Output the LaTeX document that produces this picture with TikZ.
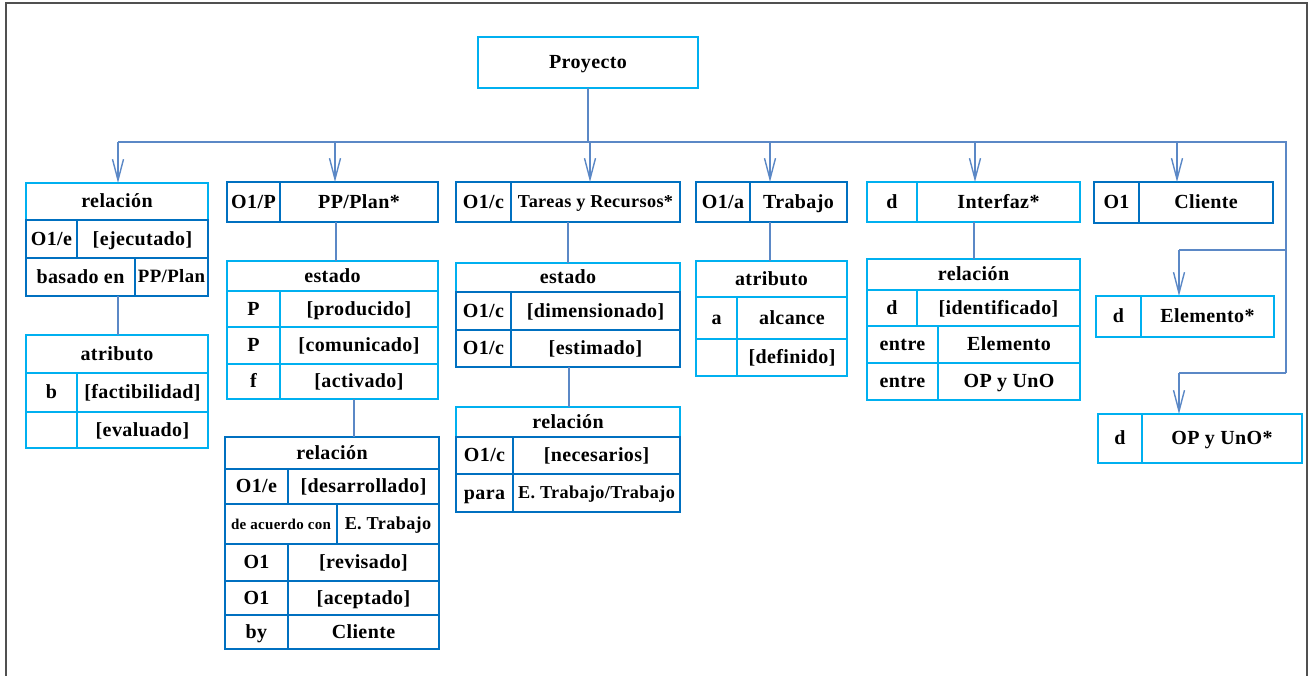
\documentclass[tikz,border=0pt]{standalone}
\usepackage{fontspec}
\setmainfont{Liberation Serif}[LetterSpace=2]
\usetikzlibrary{arrows.meta}
\definecolor{db}{HTML}{0070C0}
\definecolor{cy}{HTML}{00B0F0}
\definecolor{linkcol}{HTML}{5B88C6}
\definecolor{framecol}{HTML}{505050}
\tikzset{
  cellbox/.style={rectangle, line width=2.4pt, inner sep=0pt, outer sep=0pt,
    font=\fontsize{20}{23}\selectfont\bfseries, text=black,
    text height=14pt, text depth=2pt},
  small/.style={font=\fontsize{15}{18}\selectfont\bfseries, text height=11pt, text depth=1pt},
  mid/.style={font=\fontsize{18.2}{21}\selectfont\bfseries, text height=13pt, text depth=2pt},
  narrow/.style={font=\fontsize{18.8}{21}\selectfont\bfseries, text height=13.5pt, text depth=2pt},
  link/.style={draw=linkcol, line width=1.4pt},
  arr/.style={link, -{Straight Barb[length=21pt,width=11pt,line width=1.4pt]}},
}
% \cell[style]{name}{x1}{y1}{x2}{y2}{colour}{text}
\newcommand\cell[8][]{%
  \node[cellbox, draw=#7, minimum width={(#5)-(#3)}, minimum height={(#6)-(#4)}, #1]
    (#2) at ({((#3)+(#5))/2},{((#4)+(#6))/2}) {#8};}
% vertical link at a fixed x between two stacked boxes
\newcommand\vlink[3]{%
  \coordinate (vx) at (#1,0);
  \draw[link] (#2.south -| vx) -- (#3.north -| vx);}
\begin{document}
\begin{tikzpicture}[x=1pt,y=-1pt]
\useasboundingbox (0,0) rectangle (1312,675);
% outer frame
\draw[framecol, line width=1.6pt] (6,700) -- (6,3) -- (1307,3) -- (1307,700);

% root
\cell{proj}{478}{37}{698}{88}{cy}{Proyecto}

% column 1
\cell{r1h}{26}{183}{208}{220}{cy}{relación}
\cell{r1a}{26}{220}{77}{258}{db}{O1/e}
\cell{r1b}{77}{220}{208}{258}{db}{[ejecutado]}
\cell{r1c}{26}{258}{135}{296}{db}{basado en}
\cell[narrow]{r1d}{135}{258}{208}{296}{db}{PP/Plan}
\cell{a1h}{26}{335}{208}{373}{cy}{atributo}
\cell{a1a}{26}{373}{77}{412}{cy}{b}
\cell{a1b}{77}{373}{208}{412}{cy}{[factibilidad]}
\cell{a1c}{26}{412}{77}{448}{cy}{}
\cell{a1d}{77}{412}{208}{448}{cy}{[evaluado]}

% column 2
\cell{t2a}{227}{182}{280}{222}{db}{O1/P}
\cell{t2b}{280}{182}{438}{222}{db}{PP/Plan*}
\cell{e2h}{227}{261}{438}{291}{cy}{estado}
\cell{e2a}{227}{291}{280}{327}{cy}{P}
\cell{e2b}{280}{291}{438}{327}{cy}{[producido]}
\cell{e2c}{227}{327}{280}{364}{cy}{P}
\cell{e2d}{280}{327}{438}{364}{cy}{[comunicado]}
\cell{e2e}{227}{364}{280}{399}{cy}{f}
\cell{e2f}{280}{364}{438}{399}{cy}{[activado]}
\cell{r2h}{225}{437}{439}{469}{db}{relación}
\cell{r2a}{225}{469}{288}{504}{db}{O1/e}
\cell{r2b}{288}{469}{439}{504}{db}{[desarrollado]}
\cell[small]{r2c}{225}{504}{337}{544}{db}{de acuerdo con}
\cell[mid]{r2d}{337}{504}{439}{544}{db}{E. Trabajo}
\cell{r2e}{225}{544}{288}{581}{db}{O1}
\cell{r2f}{288}{544}{439}{581}{db}{[revisado]}
\cell{r2g}{225}{581}{288}{615}{db}{O1}
\cell{r2h2}{288}{581}{439}{615}{db}{[aceptado]}
\cell{r2i}{225}{615}{288}{649}{db}{by}
\cell{r2j}{288}{615}{439}{649}{db}{Cliente}

% column 3
\cell{t3a}{456}{182}{511}{222}{db}{O1/c}
\cell[mid]{t3b}{511}{182}{680}{222}{db}{Tareas y Recursos*}
\cell{e3h}{456}{263}{680}{292}{cy}{estado}
\cell{e3a}{456}{292}{511}{330}{db}{O1/c}
\cell{e3b}{511}{292}{680}{330}{db}{[dimensionado]}
\cell{e3c}{456}{330}{511}{367}{db}{O1/c}
\cell{e3d}{511}{330}{680}{367}{db}{[estimado]}
\cell{r3h}{456}{407}{680}{437}{cy}{relación}
\cell{r3a}{456}{437}{513}{474}{db}{O1/c}
\cell{r3b}{513}{437}{680}{474}{db}{[necesarios]}
\cell{r3c}{456}{474}{513}{512}{db}{para}
\cell[mid]{r3d}{513}{474}{680}{512}{db}{E. Trabajo/Trabajo}

% column 4
\cell{t4a}{696}{182}{750}{222}{db}{O1/a}
\cell{t4b}{750}{182}{847}{222}{db}{Trabajo}
\cell{a4h}{696}{261}{847}{297}{cy}{atributo}
\cell{a4a}{696}{297}{737}{339}{cy}{a}
\cell{a4b}{737}{297}{847}{339}{cy}{alcance}
\cell{a4c}{696}{339}{737}{376}{cy}{}
\cell{a4d}{737}{339}{847}{376}{cy}{[definido]}

% column 5
\cell{t5a}{867}{182}{917}{222}{cy}{d}
\cell{t5b}{917}{182}{1080}{222}{cy}{Interfaz*}
\cell{r5h}{867}{259}{1080}{290}{cy}{relación}
\cell{r5a}{867}{290}{917}{326}{cy}{d}
\cell{r5b}{917}{290}{1080}{326}{cy}{[identificado]}
\cell{r5c}{867}{326}{938}{363}{cy}{entre}
\cell{r5d}{938}{326}{1080}{363}{cy}{Elemento}
\cell{r5e}{867}{363}{938}{400}{cy}{entre}
\cell{r5f}{938}{363}{1080}{400}{cy}{OP y UnO}

% column 6
\cell{t6a}{1094}{182}{1139}{223}{db}{O1}
\cell{t6b}{1139}{182}{1273}{223}{db}{Cliente}
\cell{el6a}{1096}{296}{1141}{337}{cy}{d}
\cell{el6b}{1141}{296}{1274}{337}{cy}{Elemento*}
\cell{op6a}{1098}{414}{1142}{463}{cy}{d}
\cell{op6b}{1142}{414}{1302}{463}{cy}{OP y UnO*}

% distribution bus
\coordinate (bus) at (588,142);
\coordinate (b1) at (118,142);
\coordinate (b2) at (335,142);
\coordinate (b3) at (590,142);
\coordinate (b4) at (770,142);
\coordinate (b5) at (975,142);
\coordinate (b6) at (1177,142);
\coordinate (bR) at (1286,142);
\coordinate (bR1) at (1286,250);
\coordinate (bR2) at (1286,373);
\coordinate (e1) at (1179,250);
\coordinate (e2) at (1179,373);

\draw[link] (proj.south -| bus) -- (bus);
\draw[link] (b1) -- (bR) -- (bR2);
\draw[arr] (b1) -- (r1h.north -| b1);
\draw[arr] (b2) -- (t2b.north -| b2);
\draw[arr] (b3) -- (t3b.north -| b3);
\draw[arr] (b4) -- (t4b.north -| b4);
\draw[arr] (b5) -- (t5b.north -| b5);
\draw[arr] (b6) -- (t6b.north -| b6);
\draw[link] (bR1) -- (e1);
\draw[arr] (e1) -- (el6b.north -| e1);
\draw[link] (bR2) -- (e2);
\draw[arr] (e2) -- (op6b.north -| e2);

% links between stacked boxes
\vlink{118}{r1c}{a1h}
\vlink{336}{t2b}{e2h}
\vlink{354}{e2f}{r2h}
\vlink{568}{t3b}{e3h}
\vlink{569}{e3d}{r3h}
\vlink{770}{t4b}{a4h}
\vlink{974}{t5b}{r5h}
\end{tikzpicture}
\end{document}
